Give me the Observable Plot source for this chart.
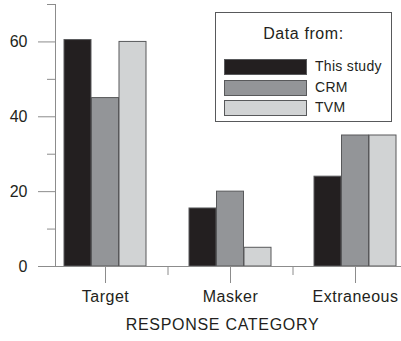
<!DOCTYPE html>
<html>
<head>
<meta charset="utf-8">
<script src="https://cdn.jsdelivr.net/npm/d3@7"></script>
<script src="https://cdn.jsdelivr.net/npm/@observablehq/plot@0.6"></script>
<style>
  body { margin: 0; background: #fff; }
  #wrap { position: relative; width: 401px; height: 341px; font-family: "Liberation Sans", Arial, sans-serif; color: #231f20; }
  #legend { position: absolute; left: 215px; top: 12px; width: 175px; height: 108px; border: 1px solid #58595b; background: #fff; box-sizing: content-box; }
  #legend .title { position: absolute; left: 0; right: 0; top: 12px; text-align: center; font-size: 16px; letter-spacing: 0.6px; }
  #legend .row { position: absolute; left: 8px; height: 16px; }
  #legend .sw { position: absolute; left: 0; top: 0; width: 81px; height: 14px; border: 1px solid #58595b; }
  #legend .lab { position: absolute; left: 91px; top: -1px; font-size: 14px; line-height: 16px; white-space: nowrap; letter-spacing: 0.3px; }
  svg g[aria-label="x-axis tick label"] text { letter-spacing: 0.5px; }
  svg g[aria-label="text"] text { letter-spacing: 0.7px; }
</style>
</head>
<body>
<div id="wrap"></div>
<script>
const categories = ["Target", "Masker", "Extraneous"];
const seriesNames = ["This study", "CRM", "TVM"];
const thisStudy = [60.5, 15.5, 24];
const crm = [45, 20, 35];
const tvm = [60, 5, 35];
const yTicks = [0, 20, 40, 60];
const yMinorTicks = [10, 30, 50, 70];
const legendTitle = "Data from:";
const xLabel = "RESPONSE CATEGORY";

const colors = ["#231f20", "#939598", "#d1d3d4"];
const seriesValues = [thisStudy, crm, tvm];
const rows = [];
seriesNames.forEach((s, j) => categories.forEach((c, i) => rows.push({category: c, series: s, value: seriesValues[j][i]})));

const barW = 27.5;
const axisGray = "#8c8c8c";

const barMarks = seriesNames.map((s, j) =>
  Plot.barY(rows.filter(d => d.series === s), {
    x: "category", y: "value", fill: "series",
    stroke: "#58595b", strokeWidth: 1,
    insetLeft: j * barW, insetRight: (seriesNames.length - 1 - j) * barW
  })
);

const chart = Plot.plot({
  width: 401, height: 341,
  marginLeft: 55, marginRight: 0, marginTop: 4, marginBottom: 75,
  style: { fontFamily: "'Liberation Sans', Arial, sans-serif", fontSize: "16px", color: "#231f20", background: "#fff", overflow: "visible" },
  x: { type: "band", domain: categories, range: [63.75, 396.25], paddingInner: 0.34, paddingOuter: 0, axis: null },
  y: { domain: [0, 70], axis: null },
  color: { domain: seriesNames, range: colors },
  marks: [
    ...barMarks,
    Plot.ruleY([0], { stroke: axisGray, insetLeft: -17 }),
    Plot.frame({ anchor: "left", stroke: axisGray }),
    Plot.axisY({ ticks: yTicks, tickSize: 17, tickPadding: 11, stroke: axisGray, label: null, fontSize: 16 }),
    Plot.axisY({ ticks: yMinorTicks, tickSize: 8, text: null, stroke: axisGray, label: null }),
    Plot.axisX({ ticks: categories, tickSize: 17, tickPadding: 7, stroke: axisGray, label: null, fontSize: 16 }),
    Plot.axisX({ ticks: categories.slice(0, -1), tickSize: 9, text: null, dx: 62.5, stroke: axisGray, label: null }),
    Plot.text([xLabel], { frameAnchor: "bottom", dy: 63, dx: -6, fontSize: 16, fill: "#231f20" })
  ]
});

const wrap = document.getElementById("wrap");
wrap.appendChild(chart);

const legend = document.createElement("div");
legend.id = "legend";
const t = document.createElement("div");
t.className = "title";
t.textContent = legendTitle;
legend.appendChild(t);
const rowTops = [46, 67, 87];
seriesNames.forEach((s, j) => {
  const r = document.createElement("div");
  r.className = "row";
  r.style.top = rowTops[j] + "px";
  const sw = document.createElement("div");
  sw.className = "sw";
  sw.style.background = colors[j];
  const lab = document.createElement("div");
  lab.className = "lab";
  lab.textContent = s;
  r.appendChild(sw); r.appendChild(lab);
  legend.appendChild(r);
});
wrap.appendChild(legend);
</script>
</body>
</html>
